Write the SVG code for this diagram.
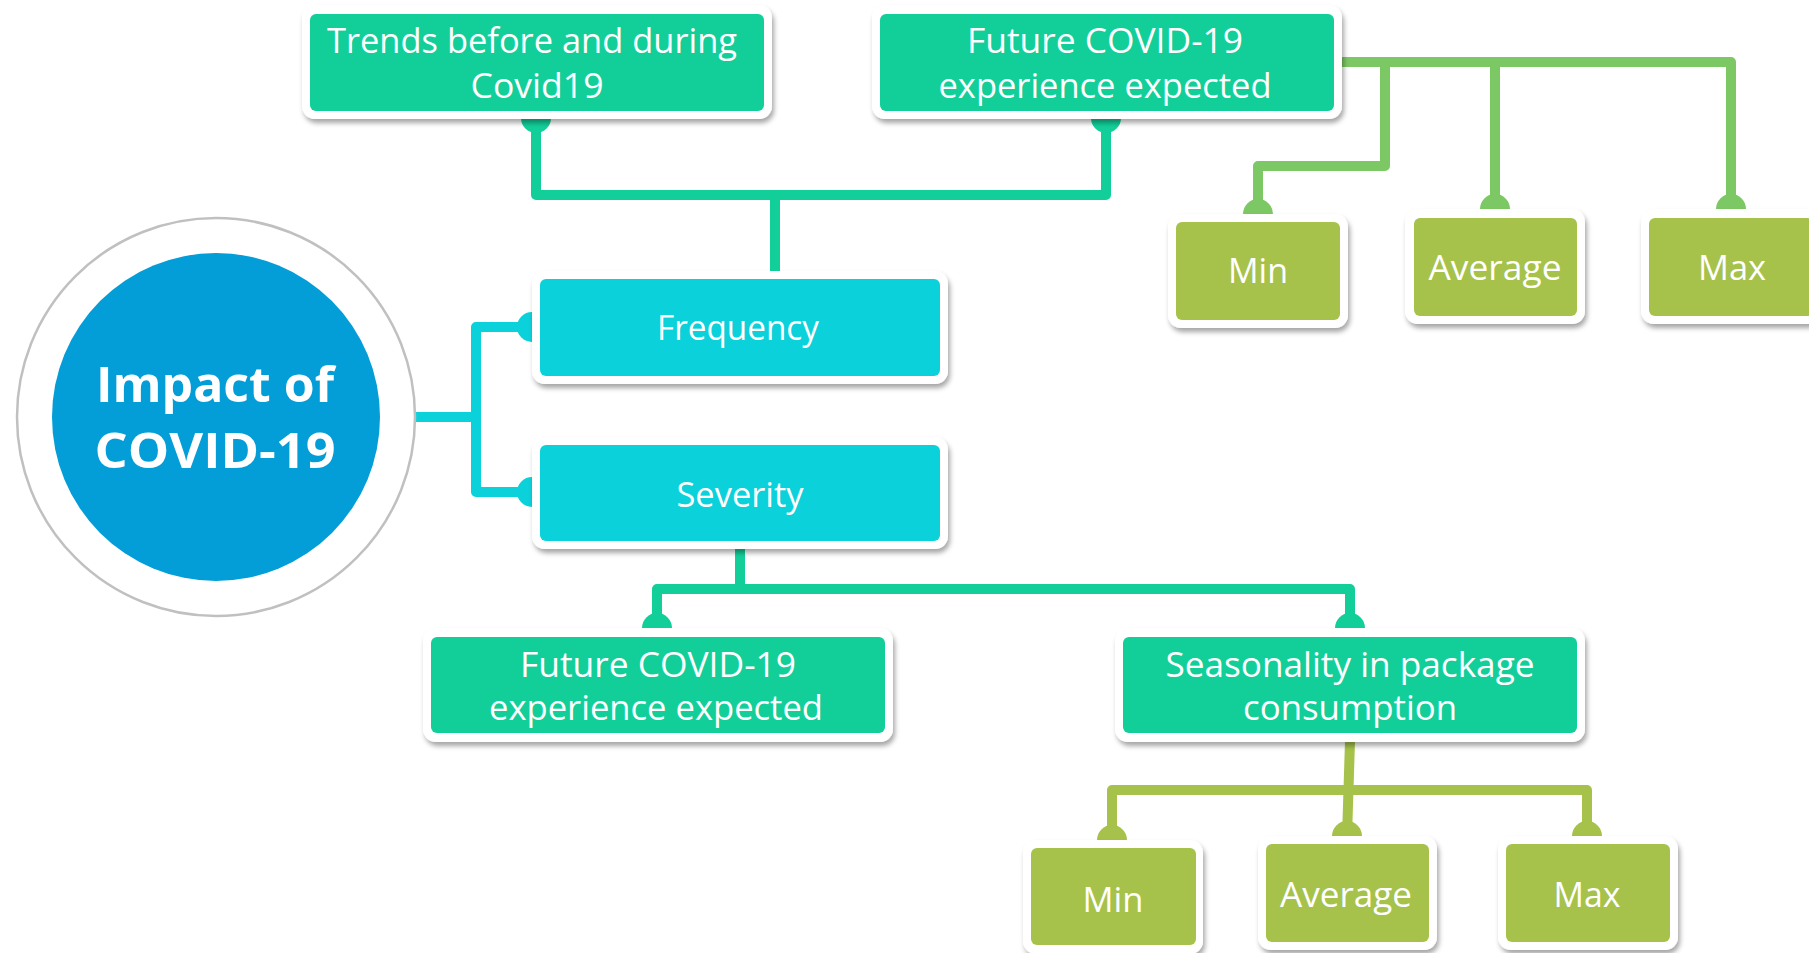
<svg xmlns="http://www.w3.org/2000/svg" width="1809" height="953" viewBox="0 0 1809 953">
<defs>
<filter id="sh" x="-10%" y="-10%" width="125%" height="135%">
<feDropShadow dx="2" dy="4" stdDeviation="2.5" flood-color="#000" flood-opacity="0.35"/>
</filter>
</defs>
<style>
.outer{fill:#fff;filter:url(#sh)}
.teal{fill:#12CF9A}
.cyan{fill:#0BD1DA}
.olive{fill:#A6C24A}
.t{fill:#fff;font-family:"Open Sans","Noto Sans",sans-serif;font-size:35px;text-anchor:middle}
.tb{fill:#fff;font-family:"Open Sans","Noto Sans",sans-serif;font-size:48px;font-weight:bold;text-anchor:middle}
.c{fill:none;stroke-width:10;stroke-linejoin:round;stroke-linecap:butt}
.cT{stroke:#12CF9A}.cC{stroke:#0BD1DA}.cO{stroke:#A6C24A}.cG{stroke:#7CC864}
.dT{fill:#12CF9A}.dC{fill:#0BD1DA}.dO{fill:#A6C24A}.dG{fill:#7CC864}
</style>
<rect width="1809" height="953" fill="#fff"/>
<g id="connectors">
<path class="c cC" d="M414 417 H476 M532 327 H476 V492 H532"/>
<circle class="dC" cx="532" cy="327" r="15"/>
<circle class="dC" cx="532" cy="492" r="15"/>
<path class="c cT" d="M536 119 V195 H1106 V119 M775 195 V272"/>
<circle class="dT" cx="536" cy="118" r="15"/>
<circle class="dT" cx="1106" cy="118" r="15"/>
<path class="c cG" d="M1340 62 H1731 V210 M1385 62 V166 H1258 V214 M1495 62 V210"/>
<circle class="dG" cx="1258" cy="214" r="15"/>
<circle class="dG" cx="1495" cy="209" r="15"/>
<circle class="dG" cx="1731" cy="209" r="15"/>
<path class="c cT" d="M740 548 V589 H657 V629 M740 589 H1350 V629"/>
<circle class="dT" cx="657" cy="628" r="15"/>
<circle class="dT" cx="1350" cy="628" r="15"/>
<path class="c cO" d="M1350 741 L1347 837 M1112 841 V790 H1587 V837"/>
<circle class="dO" cx="1112" cy="840" r="15"/>
<circle class="dO" cx="1347" cy="836" r="15"/>
<circle class="dO" cx="1587" cy="836" r="15"/>
</g>
<g id="center">
<circle cx="216" cy="417" r="199" fill="#fff" stroke="#C0C0C0" stroke-width="2.5"/>
<circle cx="216" cy="417" r="164" fill="#039DD8"/>
<text class="tb" x="215" y="402" textLength="238" lengthAdjust="spacingAndGlyphs">Impact of</text>
<text class="tb" x="215" y="468" textLength="241" lengthAdjust="spacingAndGlyphs">COVID-19</text>
</g>
<g id="trends">
<rect class="outer" x="302" y="5" width="470" height="114" rx="13"/>
<rect class="teal" x="310" y="14" width="454" height="97" rx="6"/>
<text class="t" x="532" y="53" textLength="410" lengthAdjust="spacingAndGlyphs">Trends before and during</text>
<text class="t" x="537" y="98" textLength="133" lengthAdjust="spacingAndGlyphs">Covid19</text>
</g>
<g id="future-top">
<rect class="outer" x="872" y="5" width="470" height="114" rx="13"/>
<rect class="teal" x="880" y="14" width="454" height="97" rx="6"/>
<text class="t" x="1105" y="53" textLength="276" lengthAdjust="spacingAndGlyphs">Future COVID-19</text>
<text class="t" x="1105" y="98" textLength="333" lengthAdjust="spacingAndGlyphs">experience expected</text>
</g>
<g id="min-top">
<rect class="outer" x="1168" y="214" width="180" height="114" rx="13"/>
<rect class="olive" x="1176" y="222" width="164" height="98" rx="6"/>
<text class="t" x="1258" y="283" textLength="60" lengthAdjust="spacingAndGlyphs">Min</text>
</g>
<g id="avg-top">
<rect class="outer" x="1405" y="209" width="180" height="115" rx="13"/>
<rect class="olive" x="1414" y="218" width="163" height="98" rx="6"/>
<text class="t" x="1495" y="280" textLength="133" lengthAdjust="spacingAndGlyphs">Average</text>
</g>
<g id="max-top">
<rect class="outer" x="1641" y="209" width="180" height="115" rx="13"/>
<rect class="olive" x="1649" y="218" width="164" height="98" rx="6"/>
<text class="t" x="1732" y="280" textLength="68" lengthAdjust="spacingAndGlyphs">Max</text>
</g>
<g id="frequency">
<rect class="outer" x="532" y="271" width="416" height="113" rx="13"/>
<rect class="cyan" x="540" y="279" width="400" height="97" rx="6"/>
<text class="t" x="738" y="340" textLength="162" lengthAdjust="spacingAndGlyphs">Frequency</text>
</g>
<g id="severity">
<rect class="outer" x="532" y="437" width="416" height="112" rx="13"/>
<rect class="cyan" x="540" y="445" width="400" height="96" rx="6"/>
<text class="t" x="740" y="507" textLength="127" lengthAdjust="spacingAndGlyphs">Severity</text>
</g>
<g id="future-bottom">
<rect class="outer" x="423" y="628" width="470" height="114" rx="13"/>
<rect class="teal" x="431" y="637" width="454" height="96" rx="6"/>
<text class="t" x="658" y="677" textLength="276" lengthAdjust="spacingAndGlyphs">Future COVID-19</text>
<text class="t" x="656" y="720" textLength="334" lengthAdjust="spacingAndGlyphs">experience expected</text>
</g>
<g id="seasonality">
<rect class="outer" x="1115" y="628" width="470" height="114" rx="13"/>
<rect class="teal" x="1123" y="637" width="454" height="96" rx="6"/>
<text class="t" x="1350" y="677" textLength="369" lengthAdjust="spacingAndGlyphs">Seasonality in package</text>
<text class="t" x="1350" y="720" textLength="214" lengthAdjust="spacingAndGlyphs">consumption</text>
</g>
<g id="min-bottom">
<rect class="outer" x="1023" y="840" width="180" height="114" rx="13"/>
<rect class="olive" x="1031" y="848" width="165" height="97" rx="6"/>
<text class="t" x="1113" y="912" textLength="61" lengthAdjust="spacingAndGlyphs">Min</text>
</g>
<g id="avg-bottom">
<rect class="outer" x="1258" y="836" width="179" height="114" rx="13"/>
<rect class="olive" x="1266" y="844" width="163" height="98" rx="6"/>
<text class="t" x="1346" y="907" textLength="132" lengthAdjust="spacingAndGlyphs">Average</text>
</g>
<g id="max-bottom">
<rect class="outer" x="1498" y="836" width="180" height="114" rx="13"/>
<rect class="olive" x="1506" y="844" width="164" height="98" rx="6"/>
<text class="t" x="1587" y="907" textLength="67" lengthAdjust="spacingAndGlyphs">Max</text>
</g>
</svg>
